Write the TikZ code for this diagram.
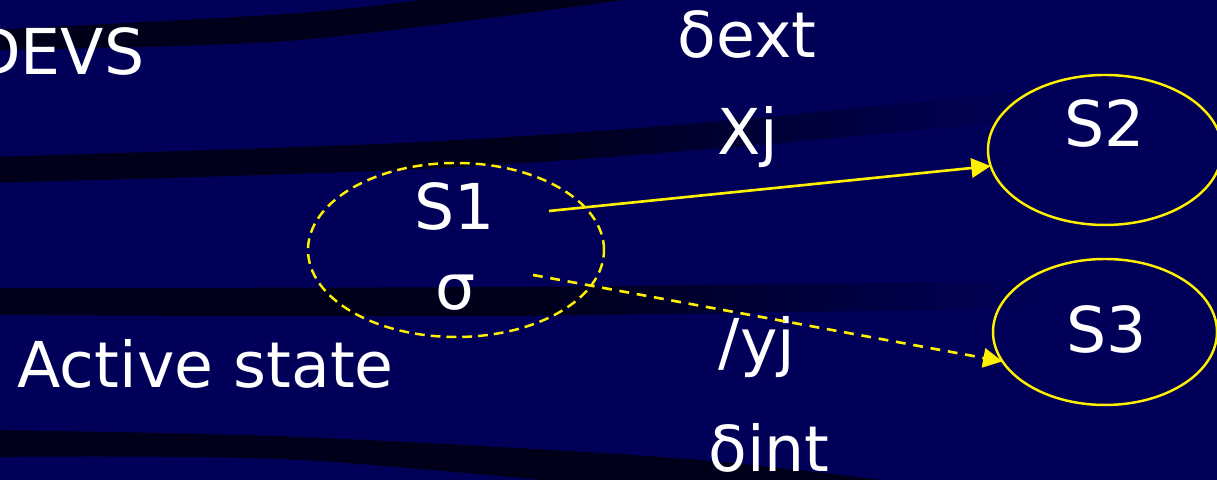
\documentclass[tikz,border=0pt]{standalone}
\usepackage{fontspec}
\setmainfont{DejaVu Sans}
\usepackage{tikz}
\usetikzlibrary{positioning}
\usetikzlibrary{shapes.geometric}
\usetikzlibrary{arrows.meta}
\usepackage{xcolor}
\definecolor{navy}{RGB}{0,0,88}
\definecolor{beamdark}{RGB}{0,0,26}
\definecolor{stateline}{RGB}{255,240,0}
\pgfdeclarehorizontalshading{beam}{100bp}{color(0bp)=(beamdark); color(25bp)=(beamdark); color(50bp)=(beamdark); color(75bp)=(navy); color(100bp)=(navy)}

\begin{document}
\begin{tikzpicture}[
    state/.style={ellipse, draw=stateline, line width=0.7pt, inner sep=0pt, outer sep=0pt},
    lbl/.style={text=white, font=\fontsize{18}{22}\selectfont, inner sep=0pt, anchor=base},
    trans/.style={draw=stateline, line width=0.75pt, -{Triangle[length=5.5pt, width=5.5pt]}}
]
    % Background
    \clip (0,0) rectangle (12.17,4.8);
    \fill[navy] (0,0) rectangle (12.17,4.8);

    % Beams
    \fill[beamdark] plot[smooth] coordinates {(-0.1,4.50) (3.0,4.67) (4.6,4.85)}
        -- plot[smooth] coordinates {(6.6,4.85) (3.0,4.40) (-0.1,4.30)} -- cycle;
    \shade[shading=beam] plot[smooth] coordinates {(-0.1,3.23) (4.0,3.37) (7.0,3.57) (10.5,3.92)}
        -- plot[smooth] coordinates {(10.5,3.62) (7.0,3.30) (4.0,3.10) (-0.1,2.97)} -- cycle;
    \shade[shading=beam] plot[smooth] coordinates {(-0.1,1.92) (5.0,1.93) (10.5,1.99)}
        -- plot[smooth] coordinates {(10.5,1.72) (5.0,1.64) (-0.1,1.65)} -- cycle;
    \fill[beamdark] plot[smooth] coordinates {(-0.1,0.50) (3.0,0.43) (7.0,0.20) (10.0,-0.15)}
        -- plot[smooth] coordinates {(7.0,-0.15) (3.0,0.20) (-0.1,0.23)} -- cycle;

    % States
    \node[state, dash pattern=on 2.8pt off 1.7pt, minimum width=2.96cm, minimum height=1.74cm] (s1) at (4.56,2.30) {};
    \node[state, minimum width=2.34cm, minimum height=1.50cm] (s2) at (11.05,3.30) {};
    \node[state, minimum width=2.24cm, minimum height=1.46cm] (s3) at (11.05,1.48) {};
    \node[lbl] (s1name) at (4.55,2.50) {S1};
    \node[lbl] (sigma) at (4.56,1.70) {σ};
    \node[lbl] (s2name) at (11.05,3.33) {S2};
    \node[lbl] (s3name) at (11.07,1.27) {S3};

    % Texts
    \node[lbl, anchor=base east] (devs) at (1.45,4.05) {DEVS};
    \node[lbl, anchor=base west] (active) at (0.17,0.92) {Active state};
    \node[lbl] (dext) at (7.47,4.22) {δext};
    \node[lbl] (xj) at (7.48,3.25) {Xj};
    \node[lbl] (yj) at (7.57,1.15) {/yj};
    \node[lbl] (dint) at (7.69,0.08) {δint};

    % Transitions
    \coordinate (xout) at (5.49,2.69);
    \coordinate (yout) at (5.33,2.05);
    \draw[trans] (xout) -- (s2.188);
    \draw[trans, dash pattern=on 2.8pt off 2.2pt] (yout) -- (s3.196);
\end{tikzpicture}
\end{document}
